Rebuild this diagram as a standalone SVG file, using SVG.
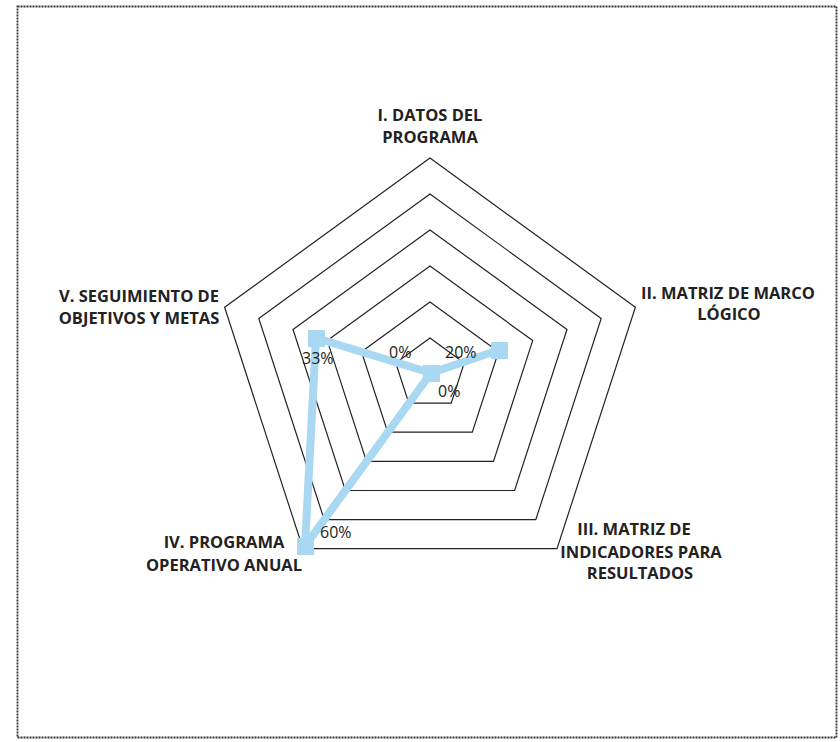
<svg xmlns="http://www.w3.org/2000/svg" width="840" height="742" viewBox="0 0 840 742">
<style>
.grid{fill:none;stroke:#222;stroke-width:1.2}
.axis{font-family:"Open Sans","Liberation Sans",sans-serif;font-weight:700;font-size:16.5px;fill:#222;text-anchor:middle}
.pct{font-family:"Open Sans","Liberation Sans",sans-serif;font-size:16px;fill:#222}
.series{fill:none;stroke:#a9d8f2;stroke-width:8;stroke-linejoin:round}
.mk{fill:#a9d8f2}
</style>
<rect x="0" y="0" width="840" height="742" fill="#fff"/>
<rect x="17.5" y="6.5" width="819" height="731" fill="none" stroke="#333" stroke-width="1.8" stroke-dasharray="2 1"/>
<g id="grid">
<polygon class="grid" points="430,158 635.4,307.3 557,548.7 303,548.7 224.6,307.3"/>
<polygon class="grid" points="430,194 601.2,318.4 535.8,519.6 324.2,519.6 258.8,318.4"/>
<polygon class="grid" points="430,230 567,329.5 514.6,490.5 345.4,490.5 293,329.5"/>
<polygon class="grid" points="430,266 532.7,340.6 493.5,461.4 366.5,461.4 327.3,340.6"/>
<polygon class="grid" points="430,302 498.5,351.8 472.3,432.2 387.7,432.2 361.5,351.8"/>
<polygon class="grid" points="430,338 464.2,362.9 451.2,403.1 408.8,403.1 395.8,362.9"/>
</g>
<g id="connectors">
<polygon class="series" points="431,373 499,350 431,373 305,546 316,338"/>
<rect class="mk" x="423" y="365" width="17" height="17"/>
<rect class="mk" x="491" y="342" width="17" height="17"/>
<rect class="mk" x="297" y="538" width="17" height="17"/>
<rect class="mk" x="308" y="330" width="17" height="17"/>
</g>
<g id="pct-labels">
<text class="pct" x="302" y="364">33%</text>
<text class="pct" x="389" y="358">0%</text>
<text class="pct" x="445" y="358">20%</text>
<text class="pct" x="438" y="397">0%</text>
<text class="pct" x="320" y="538">60%</text>
</g>
<g id="node-I"><text class="axis" x="430" y="121">I. DATOS DEL</text><text class="axis" x="430" y="143">PROGRAMA</text></g>
<g id="node-II"><text class="axis" x="728" y="299">II. MATRIZ DE MARCO</text><text class="axis" x="729" y="320">LÓGICO</text></g>
<g id="node-III"><text class="axis" x="634" y="535">III. MATRIZ DE</text><text class="axis" x="641" y="558">INDICADORES PARA</text><text class="axis" x="640" y="579">RESULTADOS</text></g>
<g id="node-IV"><text class="axis" x="224" y="548">IV. PROGRAMA</text><text class="axis" x="224" y="571">OPERATIVO ANUAL</text></g>
<g id="node-V"><text class="axis" x="139" y="302">V. SEGUIMIENTO DE</text><text class="axis" x="139" y="324">OBJETIVOS Y METAS</text></g>
</svg>
